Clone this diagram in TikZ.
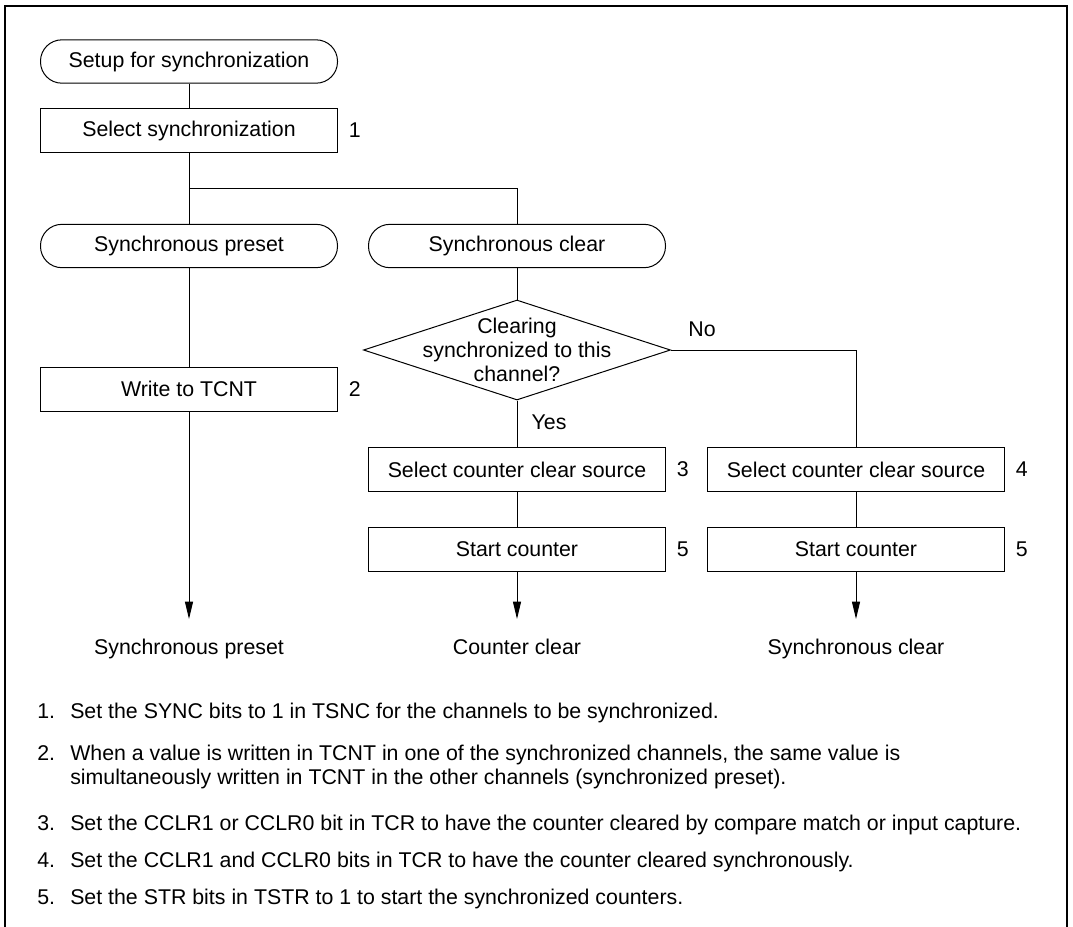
\documentclass[tikz,border=0pt]{standalone}
\usepackage{fontspec}
\setmainfont{Liberation Sans}
\usetikzlibrary{positioning, arrows.meta, shapes.geometric}

\begin{document}
\begin{tikzpicture}[x=0.75pt, y=-0.75pt,
  every node/.style={font=\fontsize{16}{18}\selectfont},
  line/.style={line width=0.75pt},
  arrow/.style={line, -{Triangle[length=13pt, width=6pt]}},
  box/.style={draw, line width=0.75pt, minimum width=222.75pt, minimum height=33pt, inner sep=0pt},
  term/.style={box, rounded corners=16pt, minimum height=32.5pt},
  dec/.style={draw, diamond, line width=0.75pt, minimum width=230.25pt, minimum height=75pt, inner sep=0pt},
  num/.style={inner sep=0pt},
  note/.style={inner sep=0pt, anchor=base west}]
  \useasboundingbox (0,0) rectangle (1073,926);

  %% Outer frame
  \draw[line width=1.5pt] (4.5,6) rectangle (1067,932);

  %% Common part
  \node[term] (setup) at (189,61.5) {Setup for synchronization};
  \node[box] (sel) at (189,130.5) {Select synchronization};
  \node[num, right=8pt of sel] (n1) {1};
  \coordinate (split) at (189,188);

  %% Left branch: synchronous preset
  \node[term] (preset) at (189,246) {Synchronous preset};
  \node[box] (write) at (189,389) {Write to TCNT};
  \node[num, right=8pt of write] (n2) {2};
  \coordinate (tipA) at (189,619);
  \node[anchor=base] (outA) at (189,654) {Synchronous preset};

  %% Right branch: synchronous clear
  \node[term] (clear) at (517,246) {Synchronous clear};
  \node[dec] (chk) at (517,350) {};
  \node[align=center, inner sep=0pt] (chktext) at (chk) {Clearing\\synchronized to this\\channel?};
  \node (no) at (702,329) {No};
  \node (yes) at (549,422) {Yes};

  \node[box] (srcA) at (517,469.5) {Select counter clear source};
  \node[num, right=8pt of srcA] (n3) {3};
  \node[box] (runA) at (517,549) {Start counter};
  \node[num, right=8pt of runA] (n5a) {5};
  \coordinate (tipB) at (517,619);
  \node[anchor=base] (outB) at (517,654) {Counter clear};

  \node[box] (srcB) at (856,469.5) {Select counter clear source};
  \node[num, right=8pt of srcB] (n4) {4};
  \node[box] (runB) at (856,549) {Start counter};
  \node[num, right=8pt of runB] (n5b) {5};
  \coordinate (tipC) at (856,619);
  \node[anchor=base] (outC) at (856,654) {Synchronous clear};

  %% Connectors
  \draw[line] (setup) -- (sel);
  \draw[line] (sel) -- (preset);
  \draw[line] (split) -| (clear);
  \draw[line] (preset) -- (write);
  \draw[arrow] (write) -- (tipA);
  \draw[line] (clear) -- (chk);
  \draw[line] (chk.south) -- (srcA);
  \draw[line] (chk.east) -| (srcB);
  \draw[line] (srcA) -- (runA);
  \draw[line] (srcB) -- (runB);
  \draw[arrow] (runA) -- (tipB);
  \draw[arrow] (runB) -- (tipC);

  %% Notes
  \node[note] (k1) at (37,718.5) {1.};
  \node[note] (m1) at (70,718.5) {Set the SYNC bits to 1 in TSNC for the channels to be synchronized.};
  \node[note] (k2) at (37,760) {2.};
  \node[note] (m2) at (70,760) {When a value is written in TCNT in one of the synchronized channels, the same value is};
  \node[note] (m2b) at (70,784) {simultaneously written in TCNT in the other channels (synchronized preset).};
  \node[note] (k3) at (37,830) {3.};
  \node[note] (m3) at (70,830) {Set the CCLR1 or CCLR0 bit in TCR to have the counter cleared by compare match or input capture.};
  \node[note] (k4) at (37,867) {4.};
  \node[note] (m4) at (70,867) {Set the CCLR1 and CCLR0 bits in TCR to have the counter cleared synchronously.};
  \node[note] (k5) at (37,904) {5.};
  \node[note] (m5) at (70,904) {Set the STR bits in TSTR to 1 to start the synchronized counters.};
\end{tikzpicture}
\end{document}
